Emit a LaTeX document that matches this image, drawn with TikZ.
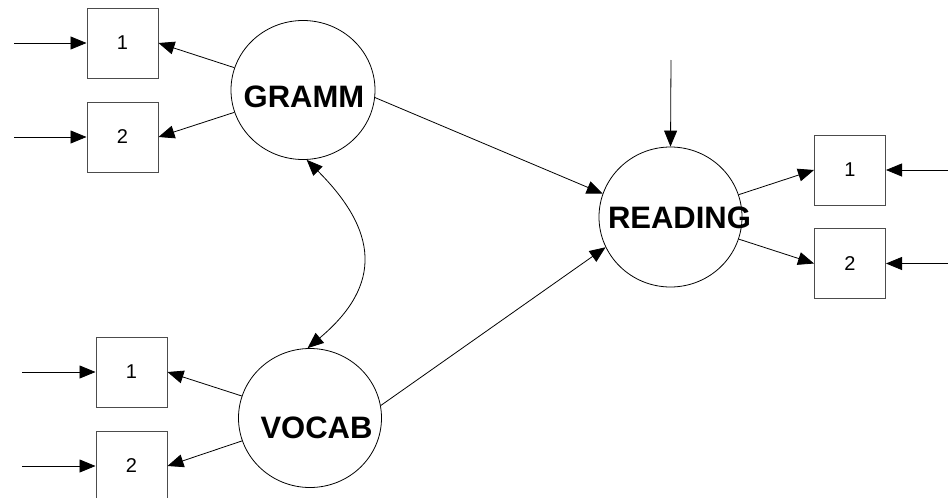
\documentclass[tikz,border=0pt]{standalone}
\usepackage{fontspec}
\setmainfont{Liberation Sans}
\usetikzlibrary{arrows.meta,shapes.geometric}
\begin{document}
\begin{tikzpicture}[x=1pt,y=-1pt,
  obs/.style={draw=black!70,line width=1pt,rectangle,minimum width=71pt,minimum height=70pt,inner sep=0pt},
  obst/.style={font=\fontsize{20}{20}\selectfont,inner sep=0pt},
  lat/.style={draw=black,line width=0.8pt,ellipse,minimum width=#1,inner sep=0pt},
  lab/.style={font=\fontsize{31}{31}\selectfont\bfseries,inner sep=0pt},
  arr/.style={line width=0.8pt,-{Triangle[length=16pt,width=13pt]}},
  darr/.style={line width=0.8pt,{Triangle[length=16pt,width=13pt]}-{Triangle[length=16pt,width=13pt]}}]
\useasboundingbox (0,0) rectangle (948,498);
% latent variables
\node[lat=144pt,minimum height=139pt] (g) at (303,90) {};
\node[lat=143pt,minimum height=139pt] (v) at (310,418) {};
\node[lat=143pt,minimum height=140pt] (r) at (670.5,217) {};
\node[lab] (gt) at (304,97) {GRAMM};
\node[lab] (vt) at (316.5,428) {VOCAB};
\node[lab] (rt) at (679.5,218) {READING};
% indicators
\node[obs] (g1) at (122.5,43) {};
\node[obs] (g2) at (122.5,137) {};
\node[obs] (v1) at (131.5,372) {};
\node[obs] (v2) at (131.5,466) {};
\node[obs] (r1) at (850,170) {};
\node[obs] (r2) at (850,263.5) {};
\node[obst] (g1t) at (g1) {1};
\node[obst] (g2t) at (g2) {2};
\node[obst] (v1t) at (v1) {1};
\node[obst] (v2t) at (v2) {2};
\node[obst] (r1t) at (r1) {1};
\node[obst] (r2t) at (r2) {2};
% error sources
\coordinate (eg1) at (14,43);
\coordinate (eg2) at (14,137);
\coordinate (ev1) at (22,372);
\coordinate (ev2) at (22,466);
\coordinate (er1) at (948,170);
\coordinate (er2) at (948,263.5);
\coordinate (rtop) at (671,60);
% connectors
\draw[arr] (eg1) -- (g1.west);
\draw[arr] (eg2) -- (g2.west);
\draw[arr] (ev1) -- (v1.west);
\draw[arr] (ev2) -- (v2.west);
\draw[arr] (er1) -- (r1.east);
\draw[arr] (er2) -- (r2.east);
\draw[arr] (rtop) -- (r.north);
\draw[arr] (g) -- (g1.east);
\draw[arr] (g) -- (g2.east);
\draw[arr] (v) -- (v1.east);
\draw[arr] (v) -- (v2.east);
\draw[arr] (r) -- (r1.west);
\draw[arr] (r) -- (r2.west);
\draw[arr] (g.-6) -- (r.161);
\draw[arr] (v.10) -- (r.205);
\draw[darr] (g.-87) to[out=-45,in=40,looseness=1.35] (v.92);
\end{tikzpicture}
\end{document}
